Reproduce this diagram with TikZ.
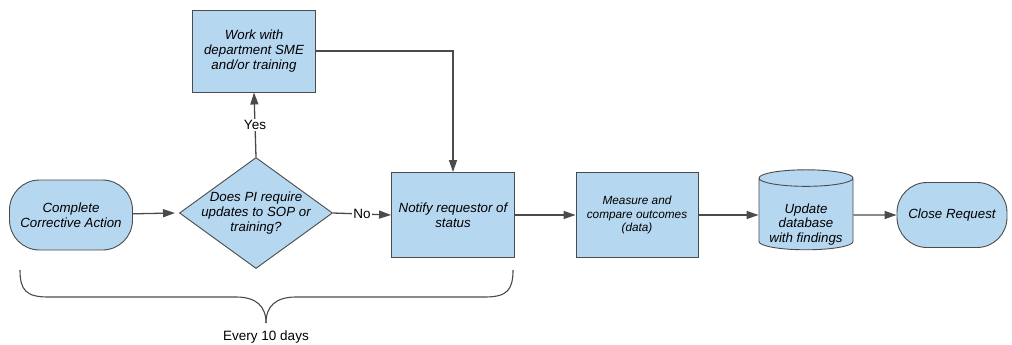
\documentclass[tikz,border=0pt]{standalone}
\usepackage{fontspec}
\setmainfont{Liberation Sans}
\usetikzlibrary{shapes.geometric,arrows.meta}
\definecolor{boxblue}{RGB}{182,215,240}
\definecolor{linegrey}{RGB}{75,75,75}
\newcommand{\bx}{\fontsize{13.3}{14.8}\selectfont\itshape}
\newcommand{\sbx}{\fontsize{11.8}{13.5}\selectfont\itshape}
\newcommand{\lbl}{\fontsize{13.5}{15}\selectfont}

\begin{document}
\begin{tikzpicture}[x=1pt,y=-1pt]
                        \tikzstyle{flowbox}=[draw=linegrey, fill=boxblue, line width=0.9pt, align=center, font=\bx]
                        \tikzstyle{terminal}=[flowbox, rounded corners=30pt, minimum height=70pt, minimum width=123pt, inner xsep=2pt]
                        \tikzstyle{process}=[flowbox, minimum width=123pt, minimum height=85pt, inner xsep=2pt]
                        \tikzstyle{decision}=[flowbox, diamond, aspect=1.38, inner sep=-3pt, minimum width=153pt, minimum height=111pt]
                        \tikzstyle{store}=[flowbox, cylinder, shape border rotate=90, aspect=0.22, minimum width=94pt, minimum height=80pt, inner xsep=1pt]
                        \tikzstyle{flow}=[draw=linegrey, line width=1.3pt, -{Triangle[length=12pt,width=8pt]}]
                        \tikzstyle{answer}=[fill=white, inner sep=1.5pt, font=\lbl]
                        \useasboundingbox (0,0) rectangle (1012,345);
                        \node[terminal] (start) at (71,215) {Complete\\Corrective Action};
                        \node[decision] (pi) at (256,213) {Does PI require\\updates to SOP or\\training?};
                        \node[process, minimum height=82pt] (sme) at (254,51) {Work with\\department SME\\and/or training};
                        \node[process] (notify) at (453,215) {Notify requestor of\\status};
                        \node[process, minimum width=122pt, font=\sbx] (measure) at (637,215) {Measure and\\compare outcomes\\(data)};
                        \node[store] (db) at (806,215) {\raisebox{-10pt}[\height][\depth]{\begin{tabular}{@{}c@{}}Update\\database\\with findings\end{tabular}}};
                        \node[terminal, minimum width=110pt, minimum height=65pt] (close) at (952,215) {Close Request};
                        \draw[flow] (start) -- ([xshift=-4pt]pi.west);
                        \draw[flow] (pi.east) -- node[answer] {No} (notify.west);
                        \draw[flow] (pi.north) -- node[answer] {Yes} (sme.south);
                        \draw[flow] (sme.east) -| (notify.north);
                        \draw[flow] (notify) -- (measure);
                        \draw[flow] (measure) -- (db);
                        \draw[flow] (db) -- (close);
                        \coordinate (bl) at (20,270);
                        \coordinate (br) at (513,270);
                        \coordinate (tip) at (266,323);
                        \draw[linegrey, line width=1.1pt] (bl) .. controls (20,290) and (26,297) .. (48,297) -- (236,297) .. controls (256,297) and (266,306) .. (tip);
                        \draw[linegrey, line width=1.1pt] (br) .. controls (513,290) and (507,297) .. (485,297) -- (296,297) .. controls (276,297) and (266,306) .. (tip);
                        \node[font=\lbl, anchor=north] (every) at (266,327) {Every 10 days};
                    \end{tikzpicture}
\end{document}
